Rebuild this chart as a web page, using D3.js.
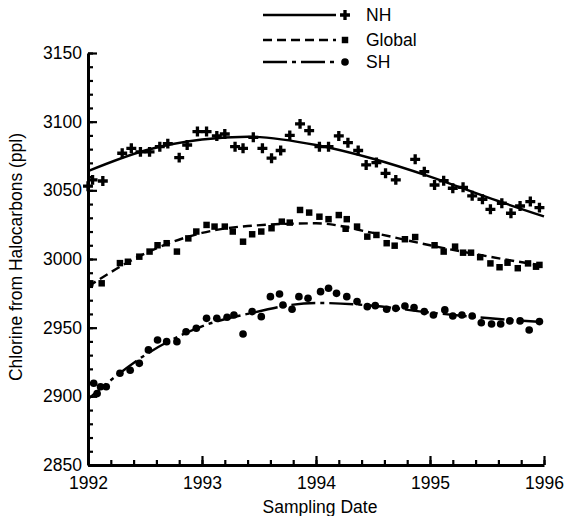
<!DOCTYPE html>
<html>
<head>
<meta charset="utf-8">
<script src="https://d3js.org/d3.v7.min.js"></script>
<style>
  body { margin: 0; background: #fff; }
  text { font-family: "Liberation Sans", Arial, Helvetica, sans-serif; fill: #000; }
</style>
</head>
<body>
<script>
const nhDates = [1992.0, 1992.04, 1992.13, 1992.30, 1992.38, 1992.46, 1992.54, 1992.63, 1992.70, 1992.80, 1992.87, 1992.96,
  1993.04, 1993.13, 1993.20, 1993.29, 1993.36, 1993.45, 1993.53, 1993.61, 1993.69, 1993.77, 1993.86, 1993.94,
  1994.03, 1994.11, 1994.20, 1994.28, 1994.37, 1994.44, 1994.53, 1994.61, 1994.70, 1994.87, 1994.95,
  1995.04, 1995.12, 1995.20, 1995.29, 1995.37, 1995.46, 1995.53, 1995.63, 1995.71, 1995.79, 1995.88, 1995.96];
const nhValues = [3053, 3057.6, 3056.8, 3077, 3080.6, 3078, 3078, 3081.8, 3084, 3073.8, 3083, 3092.8,
  3092.8, 3089.6, 3091, 3081.8, 3080.6, 3088.6, 3080.6, 3073.4, 3079, 3090, 3098.4, 3093.5,
  3081.8, 3081.8, 3089.6, 3084.7, 3079, 3068.5, 3070.2, 3062.4, 3057.6, 3072.6, 3063.6,
  3053.9, 3057, 3051.5, 3052.2, 3046, 3043.5, 3036.2, 3040.6, 3033.3, 3038.6, 3041.8, 3037.4];

const glDates = [1992.02, 1992.12, 1992.28, 1992.35, 1992.45, 1992.54, 1992.61, 1992.69, 1992.78, 1992.88, 1992.95,
  1993.04, 1993.11, 1993.20, 1993.27, 1993.36, 1993.44, 1993.52, 1993.61, 1993.70, 1993.77, 1993.86, 1993.94,
  1994.03, 1994.11, 1994.20, 1994.26, 1994.27, 1994.36, 1994.45, 1994.53, 1994.62, 1994.69, 1994.78, 1994.87,
  1995.04, 1995.12, 1995.22, 1995.29, 1995.36, 1995.44, 1995.53, 1995.61, 1995.68, 1995.77, 1995.86, 1995.93, 1995.96];
const glValues = [2982.3, 2982.3, 2997, 2998, 3001.7, 3005.4, 3010, 3011.5, 3005.4, 3015, 3020,
  3024.8, 3023.6, 3023.6, 3020, 3012.6, 3018, 3020, 3022.4, 3027.2, 3026.5, 3035.7, 3033.8,
  3030.8, 3029, 3032, 3022, 3029, 3023.6, 3016.3, 3017.5, 3011.5, 3009.7, 3014.4, 3016,
  3010, 3005.4, 3009, 3004.6, 3004.6, 3001.3, 2996.8, 2994, 2997.3, 2993.3, 2996.8, 2994.4, 2995.7];

const shDates = [1992.05, 1992.08, 1992.11, 1992.16, 1992.28, 1992.37, 1992.45, 1992.53, 1992.61, 1992.69, 1992.78, 1992.86, 1992.95,
  1993.04, 1993.13, 1993.22, 1993.28, 1993.36, 1993.44, 1993.52, 1993.60, 1993.68, 1993.71, 1993.79, 1993.85, 1993.93,
  1994.04, 1994.11, 1994.18, 1994.27, 1994.36, 1994.45, 1994.52, 1994.62, 1994.70, 1994.78, 1994.86, 1994.95,
  1995.03, 1995.13, 1995.20, 1995.28, 1995.37, 1995.45, 1995.54, 1995.62, 1995.70, 1995.79, 1995.87, 1995.96];
const shValues = [2909.5, 2902, 2907, 2907, 2916.8, 2919, 2924, 2933.8, 2941, 2939.8, 2939.8, 2947, 2949.6,
  2956.8, 2956.8, 2957.6, 2959.2, 2945.4, 2961.7, 2958, 2972.6, 2974.5, 2966.5, 2963.4, 2972.6, 2971.4,
  2976.2, 2978.7, 2975, 2972.6, 2969, 2965.3, 2966, 2963.4, 2964.1, 2965.8, 2964.6, 2961.7,
  2959.2, 2962.9, 2958.5, 2959.2, 2958.5, 2953.6, 2952.7, 2952.7, 2954.9, 2954.9, 2948.3, 2954.4];

// smooth fit curves, knots
const fitDates = [1992.0, 1992.5, 1993.0, 1993.4, 1994.0, 1994.5, 1995.0, 1995.5, 1996.0];
const nhFit = [3064, 3079, 3087, 3089, 3083, 3073, 3060, 3045, 3031];
const glFit = [2980, 3004, 3019, 3024, 3026, 3019, 3010, 3002, 2995];
const shFit = [2898, 2930, 2951, 2960, 2968, 2966, 2961, 2957, 2954];

const yearTicks = [1992, 1993, 1994, 1995, 1996];
const valueTicks = [2850, 2900, 2950, 3000, 3050, 3100, 3150];

const width = 564, height = 516;

const svg = d3.select("body").append("svg")
    .attr("width", width)
    .attr("height", height);

const x = d3.scaleLinear().domain([1992, 1996]).range([88, 544]);
const y = d3.scaleLinear().domain([2850, 3150]).range([465, 53]);

// minor ticks first
svg.append("g")
    .attr("transform", "translate(0,465)")
    .call(d3.axisBottom(x).tickValues(d3.range(1992, 1996.01, 0.2)).tickSizeInner(-5).tickSizeOuter(0).tickFormat(""))
    .call(g => g.select(".domain").remove())
    .call(g => g.selectAll("line").attr("stroke-width", 2.2));

svg.append("g")
    .attr("transform", "translate(88,0)")
    .call(d3.axisLeft(y).tickValues(d3.range(2850, 3151, 10)).tickSizeInner(-5).tickSizeOuter(0).tickFormat(""))
    .call(g => g.select(".domain").remove())
    .call(g => g.selectAll("line").attr("stroke-width", 2.2));

// major axes
svg.append("g")
    .attr("transform", "translate(0,465)")
    .call(d3.axisBottom(x).tickValues(yearTicks).tickSizeInner(-9).tickSizeOuter(0).tickPadding(12).tickFormat(d3.format("d")))
    .call(g => g.select(".domain").attr("stroke-width", 3))
    .call(g => g.selectAll("line").attr("stroke-width", 2.2))
    .call(g => g.selectAll("text").attr("font-size", 17.5));

svg.append("g")
    .attr("transform", "translate(88,0)")
    .call(d3.axisLeft(y).tickValues(valueTicks).tickSizeInner(-9).tickSizeOuter(0).tickPadding(6).tickFormat(d3.format("d")))
    .call(g => g.select(".domain").attr("stroke-width", 3))
    .call(g => g.selectAll("line").attr("stroke-width", 2.2))
    .call(g => g.selectAll("text").attr("font-size", 17.5));

svg.append("text")
    .attr("x", 320).attr("y", 513)
    .attr("text-anchor", "middle")
    .attr("font-size", 17.5)
    .text("Sampling Date");

svg.append("text")
    .attr("transform", "translate(22,257) rotate(-90)")
    .attr("text-anchor", "middle")
    .attr("font-size", 17.5)
    .text("Chlorine from Halocarbons (ppl)");

// fit lines
const line = d3.line()
    .x(d => x(d[0]))
    .y(d => y(d[1]))
    .curve(d3.curveMonotoneX);

const series = [
  {name: "NH", dates: nhDates, values: nhValues, fit: nhFit, dash: null, symbol: d3.symbolCross, size: 55},
  {name: "Global", dates: glDates, values: glValues, fit: glFit, dash: "9,5", symbol: d3.symbolSquare, size: 42},
  {name: "SH", dates: shDates, values: shValues, fit: shFit, dash: "24,5,4,5", symbol: d3.symbolCircle, size: 46}
];

series.forEach(s => {
  svg.append("path")
      .datum(fitDates.map((d, i) => [d, s.fit[i]]))
      .attr("d", line)
      .attr("fill", "none")
      .attr("stroke", "#000")
      .attr("stroke-width", 2.4)
      .attr("stroke-dasharray", s.dash);

  svg.append("g").selectAll("path")
      .data(s.dates.map((d, i) => [d, s.values[i]]))
      .enter().append("path")
      .attr("transform", d => `translate(${x(d[0])},${y(d[1])})`)
      .attr("d", d3.symbol(s.symbol, s.size))
      .attr("fill", "#000");
});

// legend
const legend = svg.append("g");
const legendY = [15, 40, 62];
series.forEach((s, i) => {
  legend.append("line")
      .attr("x1", 263).attr("x2", 336)
      .attr("y1", legendY[i]).attr("y2", legendY[i])
      .attr("stroke", "#000")
      .attr("stroke-width", 2.4)
      .attr("stroke-dasharray", s.dash);
  legend.append("path")
      .attr("transform", `translate(345,${legendY[i]})`)
      .attr("d", d3.symbol(s.symbol, s.size))
      .attr("fill", "#000");
  legend.append("text")
      .attr("x", 366).attr("y", legendY[i] + 6)
      .attr("font-size", 17.5)
      .text(s.name);
});
</script>
</body>
</html>
